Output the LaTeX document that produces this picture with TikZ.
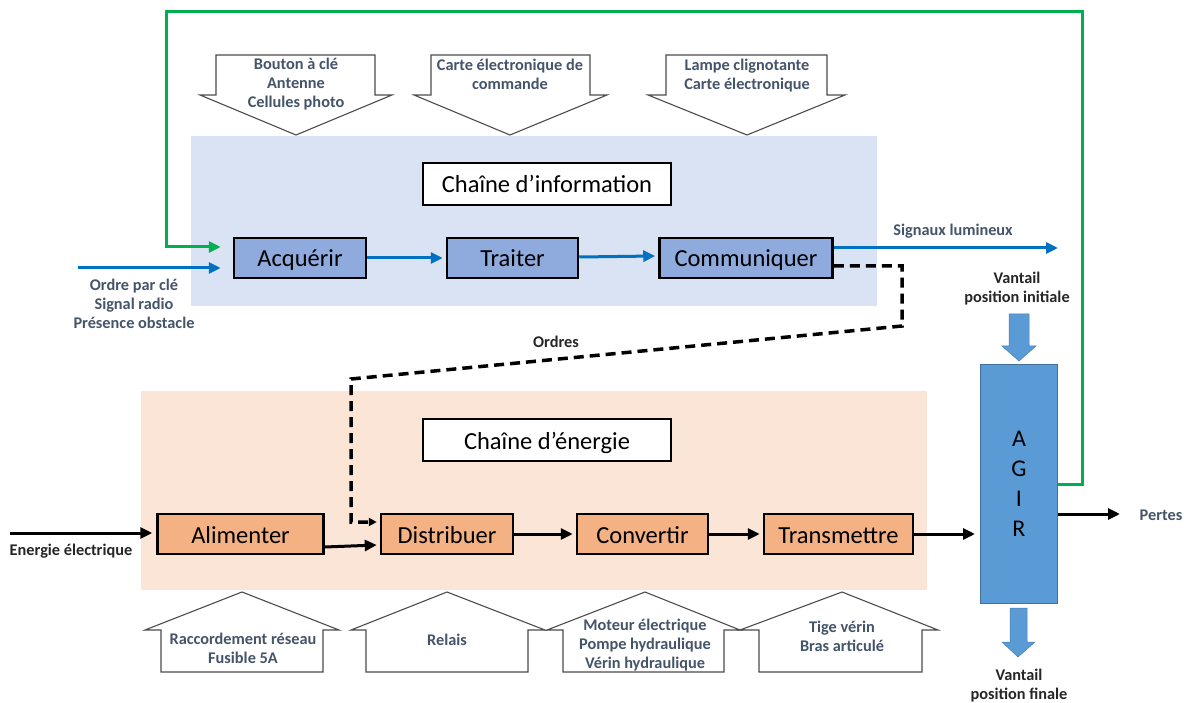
\documentclass[tikz,border=0pt]{standalone}
\usepackage{fontspec}
\setmainfont{Carlito}
\usetikzlibrary{arrows.meta}
\definecolor{infobg}{HTML}{DAE3F3}
\definecolor{infobox}{HTML}{8FAADC}
\definecolor{enbg}{HTML}{FBE5D6}
\definecolor{enbox}{HTML}{F4B183}
\definecolor{agirfill}{HTML}{5B9BD5}
\definecolor{agirline}{HTML}{41719C}
\definecolor{bluearrow}{HTML}{0070C0}
\definecolor{greenline}{HTML}{00B050}
\definecolor{txtblue}{HTML}{44546A}
\tikzset{
  bgbox/.style={inner sep=0pt, draw=none},
  fnbox/.style={draw=black, line width=2.5pt, inner sep=0pt, text height=20pt, text depth=2pt, font=\fontsize{24.5}{28}\selectfont},
  titlebox/.style={draw=black, line width=2.5pt, fill=white, inner sep=0pt, text height=20pt, text depth=2pt, minimum width=248pt, minimum height=42pt, font=\fontsize{24.5}{28}\selectfont},
  lbl/.style={font=\bfseries\fontsize{16.3}{19}\selectfont, text=txtblue, align=center, inner sep=0pt},
  lblk/.style={font=\bfseries\fontsize{16.3}{19}\selectfont, text=black!85, align=center, inner sep=0pt},
  outarrow/.style={draw=black!70, line width=1.1pt, fill=white, line join=miter},
  bluearr/.style={draw=bluearrow, line width=3pt, -{Triangle[length=12pt,width=11pt]}},
  blackarr/.style={draw=black, line width=3pt, -{Triangle[length=12pt,width=11pt]}},
  dashline/.style={draw=black, line width=3.5pt, dash pattern=on 10pt off 6pt, -{Triangle[length=8pt,width=8pt]}},
}
\begin{document}
\begin{tikzpicture}[x=1pt,y=-1pt]
\useasboundingbox (0,0) rectangle (1184,703);
\fill[white] (0,0) rectangle (1184,703);

% backgrounds
\node[bgbox, fill=infobg, minimum width=686pt, minimum height=170pt] (infobgn) at (534,221.5) {};
\node[bgbox, fill=enbg, minimum width=786pt, minimum height=199pt] (enbgn) at (534,490.5) {};

% top down arrows
\path[outarrow] (216,55)--(375,55)--(375,95)--(392,95)--(296,135)--(200,95)--(216,95)--cycle;
\path[outarrow] (431,55)--(590,55)--(590,95)--(607,95)--(510,135)--(414,95)--(431,95)--cycle;
\path[outarrow] (666,55)--(827,55)--(827,95)--(845,95)--(747,135)--(648,95)--(666,95)--cycle;
\node[lbl] (t1) at (296,84) {Bouton à clé\\Antenne\\Cellules photo};
\node[lbl] (t2) at (510,74) {Carte électronique de\\commande};
\node[lbl] (t3) at (747,76) {Lampe clignotante\\Carte électronique};

% bottom up arrows
\path[outarrow] (161,672)--(323,672)--(323,630)--(339,630)--(242,592)--(145,630)--(161,630)--cycle;
\path[outarrow] (366,672)--(528,672)--(528,630)--(545,630)--(447,592)--(351,630)--(366,630)--cycle;
\path[outarrow] (563,672)--(724,672)--(724,630)--(740,630)--(645,592)--(547,630)--(563,630)--cycle;
\path[outarrow] (759,672)--(922,672)--(922,630)--(938,630)--(842,592)--(740,630)--(759,630)--cycle;
\node[lbl] (b1) at (243,648) {Raccordement réseau\\Fusible 5A};
\node[lbl] (b2) at (447,640) {Relais};
\node[lbl] (b3) at (645,645) {Moteur électrique\\Pompe hydraulique\\Vérin hydraulique};
\node[lbl] (b4) at (842,636) {Tige vérin\\Bras articulé};

% information chain
\node[titlebox] (tinfo) at (547,184) {Chaîne d’information};
\node[fnbox, fill=infobox, minimum width=132pt, minimum height=40pt] (acq) at (300,258) {Acquérir};
\node[fnbox, fill=infobox, minimum width=131pt, minimum height=40pt] (trt) at (512.5,258) {Traiter};
\node[fnbox, fill=infobox, minimum width=173pt, minimum height=40pt] (com) at (746,258) {Communiquer};

% energy chain
\node[titlebox] (tener) at (547,440) {Chaîne d’énergie};
\node[fnbox, fill=enbox, minimum width=166pt, minimum height=40pt] (ali) at (240.5,534) {Alimenter};
\node[fnbox, fill=enbox, minimum width=132pt, minimum height=40pt] (dis) at (447,534) {Distribuer};
\node[fnbox, fill=enbox, minimum width=131pt, minimum height=40pt] (cnv) at (642.5,534) {Convertir};
\node[fnbox, fill=enbox, minimum width=149pt, minimum height=40pt] (trm) at (838.5,534) {Transmettre};

% AGIR
\node[draw=agirline, line width=1pt, fill=agirfill, minimum width=77pt, minimum height=238pt, inner sep=0pt,
      font=\fontsize{24}{30}\selectfont, align=center] (agir) at (1019,484) {A\\G\\I\\R};

% fat arrows
\path[fill=agirfill, draw=agirfill!80!black, line width=0.5pt] (1009,314)--(1029,314)--(1029,346)--(1036,346)--(1019,361)--(1002,346)--(1009,346)--cycle;
\path[fill=agirfill, draw=agirfill!80!black, line width=0.5pt] (1010,608)--(1027,608)--(1027,642)--(1035,642)--(1018,657)--(1002,642)--(1010,642)--cycle;
\node[lblk] (vini) at (1017,289) {Vantail\\position initiale};
\node[lblk] (vfin) at (1019,686) {Vantail\\position finale};

% labels
\node[lbl] (lin) at (134,304) {Ordre par clé\\Signal radio\\Présence obstacle};
\node[lbl] (lsig) at (953,231) {Signaux lumineux};
\node[lblk] (lord) at (556,342) {Ordres};
\node[lblk] (lene) at (71,551) {Energie électrique};
\node[lbl] (lper) at (1161,515) {Pertes};

% coordinates
\coordinate (inS) at (78,268);
\coordinate (sigE) at (1058,248);
\coordinate (enS) at (10,533);
\coordinate (perE) at (1120,514);

% information connectors
\draw[bluearr] (inS) -- ([shift={(-12pt,-10pt)}]acq.west);
\draw[bluearr] (acq.east) -- ([xshift=-3pt]trt.west);
\draw[bluearr] ([yshift=1pt]trt.east) -- ([shift={(-3pt,2pt)}]com.west);
\draw[bluearr] ([yshift=10pt]com.east) -- (sigE);

% green feedback
\draw[draw=greenline, line width=3pt, -{Triangle[length=12pt,width=11pt]}]
  (agir.east) -- (1082,484) -- (1082,12) -- (166,12) -- (166,247) -- ([shift={(-12pt,11pt)}]acq.west);

% dashed orders
\draw[dashline] ([yshift=-8pt]com.east) -- (902,266) -- (902,326) -- (351,379) -- (351,522) -- ([shift={(-3pt,12pt)}]dis.west);

% energy connectors
\draw[blackarr] (enS) -- ([xshift=-4pt]ali.west |- enS);
\draw[blackarr] ([yshift=-13pt]ali.east) -- ([shift={(-3pt,-11pt)}]dis.west);
\draw[blackarr] (dis.east) -- ([xshift=-3pt]cnv.west);
\draw[blackarr] (cnv.east) -- ([xshift=-3pt]trm.west);
\draw[blackarr] (trm.east) -- ([xshift=-5pt]agir.west |- trm.east);
\draw[blackarr] (agir.east |- perE) -- (perE);
\end{tikzpicture}
\end{document}
